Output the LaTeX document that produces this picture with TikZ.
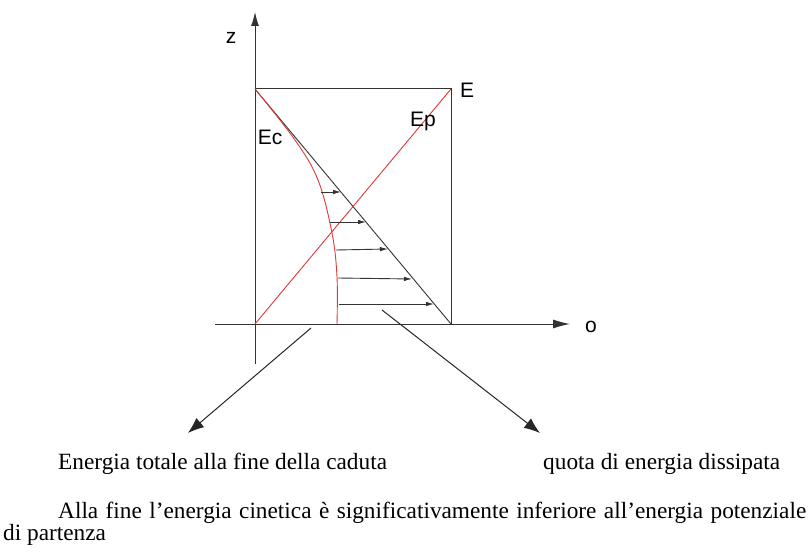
\documentclass[tikz,border=0pt]{standalone}
\usepackage{fontspec}
\setmainfont{Liberation Serif}
\newfontfamily\labfont{Liberation Sans}
\usetikzlibrary{arrows.meta}
\definecolor{myred}{RGB}{225,55,55}
\begin{document}
\begin{tikzpicture}[x=1pt,y=-1pt,
  axisline/.style={draw=black!80, line width=1pt},
  redline/.style={draw=myred, line width=0.9pt},
  smallarrow/.style={draw=black!80, line width=0.9pt, -{Latex[length=8pt,width=4.5pt]}},
  bigarrow/.style={draw=black!85, line width=1pt, -{Latex[length=16pt,width=12pt]}},
  lab/.style={font=\labfont\fontsize{21}{21}\selectfont, inner sep=0pt},
  txt/.style={font=\fontsize{23.3}{22}\selectfont, inner sep=0pt, anchor=base west}]
\useasboundingbox (0,0) rectangle (810,556);
% coordinates
\coordinate (O) at (255,324);
\coordinate (TL) at (255,89);
\coordinate (TR) at (451,89);
\coordinate (BR) at (451,324);
\coordinate (zb) at (255,364);
\coordinate (zt) at (255,12);
\coordinate (ol) at (215,324);
\coordinate (or) at (570,324);
% axes
\draw[axisline, -{Latex[length=14pt,width=8pt]}] (zb) -- (zt);
\draw[axisline, -{Latex[length=17pt,width=9pt]}] (ol) -- (or);
% box
\draw[axisline] (TL) -- (TR) -- (BR);
% black diagonal
\draw[draw=black!80, line width=0.9pt] (TL) -- (BR);
% red Ep line
\draw[redline] (O) -- (TR);
% red Ec curve
\draw[redline] plot[smooth, tension=0.6] coordinates {(255,89) (295,140) (318,180) (332,233) (337,277) (337,324)};
% horizontal arrows
\coordinate (a1s) at (321,192); \coordinate (a1e) at (341,192);
\coordinate (a2s) at (330,222); \coordinate (a2e) at (366,222);
\coordinate (a3s) at (336,250); \coordinate (a3e) at (388,249);
\coordinate (a4s) at (338,278); \coordinate (a4e) at (412,279);
\coordinate (a5s) at (339,304); \coordinate (a5e) at (434,304);
\draw[smallarrow] (a1s) -- (a1e);
\draw[smallarrow] (a2s) -- (a2e);
\draw[smallarrow] (a3s) -- (a3e);
\draw[smallarrow] (a4s) -- (a4e);
\draw[smallarrow] (a5s) -- (a5e);
% labels
\node[lab] (z) at (231,38) {z};
\node[lab] (E) at (467,90) {E};
\node[lab] (Ep) at (423,121) {Ep};
\node[lab] (Ec) at (270,137) {Ec};
\node[lab] (o) at (591,327) {o};
% pointer arrows
\coordinate (p1s) at (311,328); \coordinate (p1e) at (188,433);
\coordinate (p2s) at (382,310); \coordinate (p2e) at (540,433);
\draw[bigarrow] (p1s) -- (p1e);
\draw[bigarrow] (p2s) -- (p2e);
% texts
\node[txt] (t1) at (58,469) {Energia totale alla fine della caduta};
\node[txt] (t2) at (543,469) {quota di energia dissipata};
\node[txt, text width=803pt, align=justify] (t3) at (3,518) {\parindent=55pt\indent Alla fine l’energia cinetica è significativamente inferiore all’energia potenziale di partenza};
\end{tikzpicture}
\end{document}
